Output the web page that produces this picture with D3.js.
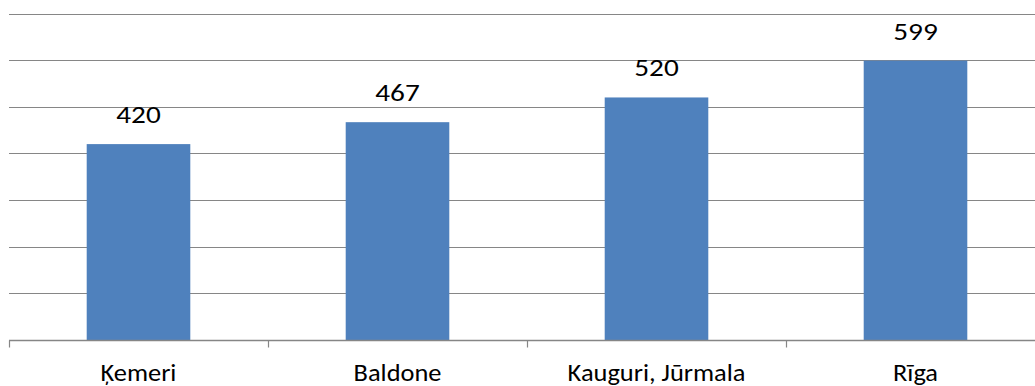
<!DOCTYPE html>
<html>
<head>
<meta charset="utf-8">
<script src="https://cdn.jsdelivr.net/npm/d3@7"></script>
<style>
  html, body { margin: 0; padding: 0; background: #fff; }
  svg { display: block; }
  text { font-family: Carlito, Lato, "Open Sans", sans-serif; fill: #000; }
</style>
</head>
<body>
<svg id="chart" width="1035" height="386"></svg>
<script>
// Chart data
const categories = ["Ķemeri", "Baldone", "Kauguri, Jūrmala", "Rīga"];
const values = [420, 467, 520, 599];
const yTicks = [0, 100, 200, 300, 400, 500, 600, 700];

const svg = d3.select("#chart");
const plot = { left: 9, right: 1045, top: 13.5, bottom: 340 };

const x = d3.scaleBand().domain(categories).range([plot.left, plot.right]).padding(0);
const y = d3.scaleLinear().domain([0, 700]).range([plot.bottom, plot.top]);

const gridColor = "#868686";

// Horizontal gridlines
svg.append("g")
  .selectAll("line")
  .data(yTicks.filter(d => d > 0))
  .join("line")
  .attr("x1", plot.left).attr("x2", 1035)
  .attr("y1", d => Math.round(y(d)) + 0.5)
  .attr("y2", d => Math.round(y(d)) + 0.5)
  .attr("stroke", gridColor).attr("stroke-width", 1.2);

// Bars
const barW = x.bandwidth() * 0.4;
svg.append("g")
  .selectAll("rect")
  .data(values)
  .join("rect")
  .attr("x", (d, i) => x(categories[i]) + (x.bandwidth() - barW) / 2)
  .attr("y", d => y(d))
  .attr("width", barW)
  .attr("height", d => y(0) - y(d))
  .attr("fill", "#4F81BD");

// Category axis with outward ticks at band boundaries
const axisY = Math.round(y(0)) + 0.5;
svg.append("line")
  .attr("x1", plot.left).attr("x2", 1035)
  .attr("y1", axisY).attr("y2", axisY)
  .attr("stroke", gridColor).attr("stroke-width", 1.5);

const boundaries = categories.map(c => x(c));
svg.append("g")
  .selectAll("line")
  .data(boundaries)
  .join("line")
  .attr("x1", d => Math.round(d) + 0.5).attr("x2", d => Math.round(d) + 0.5)
  .attr("y1", axisY).attr("y2", axisY + 7)
  .attr("stroke", gridColor).attr("stroke-width", 1.2);

// Category labels (slightly widened glyphs)
svg.append("g")
  .selectAll("text")
  .data(categories)
  .join("text")
  .attr("transform", d => `translate(${x(d) + x.bandwidth() / 2},381) scale(1.1,1)`)
  .attr("text-anchor", "middle")
  .attr("font-size", 24)
  .text(d => d);

// Value labels above bars
svg.append("g")
  .selectAll("text")
  .data(values)
  .join("text")
  .attr("transform", (d, i) => `translate(${x(categories[i]) + x.bandwidth() / 2},${y(d) - 21}) scale(1.17,1)`)
  .attr("text-anchor", "middle")
  .attr("font-size", 25)
  .text(d => d);
</script>
</body>
</html>
